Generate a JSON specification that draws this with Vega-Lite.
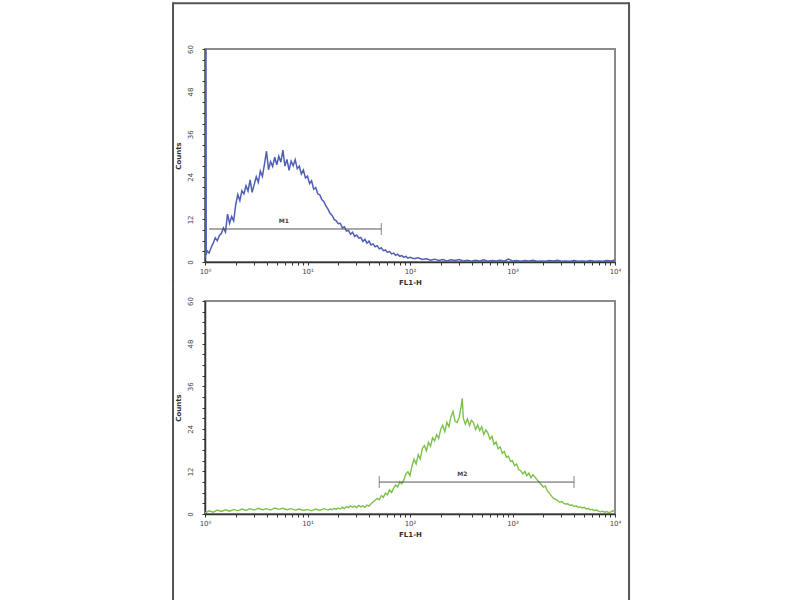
{
  "$schema": "https://vega.github.io/schema/vega-lite/v6.json",
  "background": "white",
  "padding": {"left": 171, "top": 0, "right": 0, "bottom": 0},
  "config": {
    "view": {"stroke": "#8a8a8a", "strokeWidth": 2},
    "font": "DejaVu Sans",
    "axis": {
      "grid": false, "domainColor": "#333333", "domainWidth": 1.5,
      "tickColor": "#333333", "tickSize": 3, "tickWidth": 1, "tickCount": 100,
      "labelFontSize": 7, "labelColor": "#444444", "labelOverlap": false, "labelFlush": false,
      "titleFontSize": 7, "titleColor": "#333333", "titleFontWeight": "bold"
    }
  },
  "datasets": {
    "blue": [
      {"log_fl1": 0.00, "count": 75}, {"log_fl1": 0.004, "count": 1}, {"log_fl1": 0.008, "count": 75}, {"log_fl1": 0.012, "count": 2}, {"log_fl1": 0.02, "count": 3.2}, {"log_fl1": 0.04, "count": 2.5},
      {"log_fl1": 0.06, "count": 4.1}, {"log_fl1": 0.08, "count": 5.3}, {"log_fl1": 0.10, "count": 6.8}, {"log_fl1": 0.12, "count": 6.0},
      {"log_fl1": 0.14, "count": 7.4}, {"log_fl1": 0.16, "count": 8.1}, {"log_fl1": 0.18, "count": 9.6}, {"log_fl1": 0.20, "count": 8.4},
      {"log_fl1": 0.22, "count": 13.5}, {"log_fl1": 0.24, "count": 10.9}, {"log_fl1": 0.26, "count": 12.8}, {"log_fl1": 0.28, "count": 11.6},
      {"log_fl1": 0.30, "count": 16.2}, {"log_fl1": 0.32, "count": 19.0}, {"log_fl1": 0.34, "count": 17.3}, {"log_fl1": 0.36, "count": 20.1},
      {"log_fl1": 0.38, "count": 19.2}, {"log_fl1": 0.40, "count": 21.5}, {"log_fl1": 0.42, "count": 20.0}, {"log_fl1": 0.44, "count": 23.1},
      {"log_fl1": 0.46, "count": 19.6}, {"log_fl1": 0.48, "count": 21.8}, {"log_fl1": 0.50, "count": 24.0}, {"log_fl1": 0.52, "count": 22.4},
      {"log_fl1": 0.54, "count": 25.6}, {"log_fl1": 0.56, "count": 24.1}, {"log_fl1": 0.58, "count": 27.5}, {"log_fl1": 0.60, "count": 31.2},
      {"log_fl1": 0.62, "count": 26.0}, {"log_fl1": 0.64, "count": 28.3}, {"log_fl1": 0.66, "count": 26.9}, {"log_fl1": 0.68, "count": 29.5},
      {"log_fl1": 0.70, "count": 27.4}, {"log_fl1": 0.72, "count": 29.8}, {"log_fl1": 0.74, "count": 28.1}, {"log_fl1": 0.76, "count": 31.5},
      {"log_fl1": 0.78, "count": 27.0}, {"log_fl1": 0.80, "count": 28.9}, {"log_fl1": 0.82, "count": 25.8}, {"log_fl1": 0.84, "count": 28.4},
      {"log_fl1": 0.86, "count": 27.1}, {"log_fl1": 0.88, "count": 28.8}, {"log_fl1": 0.90, "count": 26.3}, {"log_fl1": 0.92, "count": 27.0},
      {"log_fl1": 0.94, "count": 24.8}, {"log_fl1": 0.96, "count": 25.9}, {"log_fl1": 0.98, "count": 23.7}, {"log_fl1": 1.00, "count": 24.2},
      {"log_fl1": 1.02, "count": 22.1}, {"log_fl1": 1.04, "count": 22.9}, {"log_fl1": 1.06, "count": 20.5}, {"log_fl1": 1.08, "count": 21.0},
      {"log_fl1": 1.10, "count": 19.2}, {"log_fl1": 1.12, "count": 18.9}, {"log_fl1": 1.14, "count": 17.6}, {"log_fl1": 1.16, "count": 17.0},
      {"log_fl1": 1.18, "count": 15.8}, {"log_fl1": 1.20, "count": 14.9}, {"log_fl1": 1.22, "count": 13.7}, {"log_fl1": 1.24, "count": 13.1},
      {"log_fl1": 1.26, "count": 12.0}, {"log_fl1": 1.28, "count": 11.6}, {"log_fl1": 1.30, "count": 10.8}, {"log_fl1": 1.32, "count": 10.9},
      {"log_fl1": 1.34, "count": 9.6}, {"log_fl1": 1.36, "count": 9.9}, {"log_fl1": 1.38, "count": 8.7}, {"log_fl1": 1.40, "count": 8.9},
      {"log_fl1": 1.42, "count": 7.8}, {"log_fl1": 1.44, "count": 8.4}, {"log_fl1": 1.46, "count": 7.2}, {"log_fl1": 1.48, "count": 7.6},
      {"log_fl1": 1.50, "count": 6.7}, {"log_fl1": 1.52, "count": 6.9}, {"log_fl1": 1.54, "count": 5.8}, {"log_fl1": 1.56, "count": 6.4},
      {"log_fl1": 1.58, "count": 5.3}, {"log_fl1": 1.60, "count": 5.9}, {"log_fl1": 1.62, "count": 4.8}, {"log_fl1": 1.64, "count": 5.1},
      {"log_fl1": 1.66, "count": 4.3}, {"log_fl1": 1.68, "count": 4.6}, {"log_fl1": 1.70, "count": 3.7}, {"log_fl1": 1.72, "count": 4.0},
      {"log_fl1": 1.74, "count": 3.2}, {"log_fl1": 1.76, "count": 3.4}, {"log_fl1": 1.78, "count": 2.7}, {"log_fl1": 1.80, "count": 3.0},
      {"log_fl1": 1.82, "count": 2.3}, {"log_fl1": 1.84, "count": 2.5}, {"log_fl1": 1.86, "count": 1.9}, {"log_fl1": 1.88, "count": 2.2},
      {"log_fl1": 1.90, "count": 1.6}, {"log_fl1": 1.92, "count": 1.8}, {"log_fl1": 1.94, "count": 1.3}, {"log_fl1": 1.96, "count": 1.6},
      {"log_fl1": 1.98, "count": 1.1}, {"log_fl1": 2.00, "count": 1.3}, {"log_fl1": 2.04, "count": 0.9}, {"log_fl1": 2.08, "count": 1.2},
      {"log_fl1": 2.12, "count": 0.7}, {"log_fl1": 2.16, "count": 0.9}, {"log_fl1": 2.20, "count": 0.5}, {"log_fl1": 2.24, "count": 0.8},
      {"log_fl1": 2.28, "count": 0.4}, {"log_fl1": 2.32, "count": 0.7}, {"log_fl1": 2.36, "count": 0.3}, {"log_fl1": 2.40, "count": 0.6},
      {"log_fl1": 2.44, "count": 0.4}, {"log_fl1": 2.48, "count": 0.7}, {"log_fl1": 2.52, "count": 0.3}, {"log_fl1": 2.56, "count": 0.5},
      {"log_fl1": 2.60, "count": 0.2}, {"log_fl1": 2.64, "count": 0.5}, {"log_fl1": 2.68, "count": 0.3}, {"log_fl1": 2.72, "count": 0.6},
      {"log_fl1": 2.76, "count": 0.2}, {"log_fl1": 2.80, "count": 0.4}, {"log_fl1": 2.84, "count": 0.3}, {"log_fl1": 2.88, "count": 0.5},
      {"log_fl1": 2.92, "count": 0.2}, {"log_fl1": 2.96, "count": 0.8}, {"log_fl1": 3.00, "count": 0.3}, {"log_fl1": 3.04, "count": 0.4},
      {"log_fl1": 3.08, "count": 0.2}, {"log_fl1": 3.12, "count": 0.4}, {"log_fl1": 3.16, "count": 0.3}, {"log_fl1": 3.20, "count": 0.5},
      {"log_fl1": 3.24, "count": 0.2}, {"log_fl1": 3.28, "count": 0.3}, {"log_fl1": 3.32, "count": 0.2}, {"log_fl1": 3.36, "count": 0.4},
      {"log_fl1": 3.40, "count": 0.3}, {"log_fl1": 3.44, "count": 0.5}, {"log_fl1": 3.48, "count": 0.2}, {"log_fl1": 3.52, "count": 0.3},
      {"log_fl1": 3.56, "count": 0.2}, {"log_fl1": 3.60, "count": 0.4}, {"log_fl1": 3.64, "count": 0.2}, {"log_fl1": 3.68, "count": 0.3},
      {"log_fl1": 3.72, "count": 0.2}, {"log_fl1": 3.76, "count": 0.4}, {"log_fl1": 3.80, "count": 0.2}, {"log_fl1": 3.84, "count": 0.3},
      {"log_fl1": 3.88, "count": 0.2}, {"log_fl1": 3.92, "count": 0.4}, {"log_fl1": 3.96, "count": 0.3}, {"log_fl1": 4.00, "count": 0.6}
    ],
    "green": [
      {"log_fl1": 0.00, "count": 0.3}, {"log_fl1": 0.04, "count": 0.9}, {"log_fl1": 0.08, "count": 0.5}, {"log_fl1": 0.12, "count": 1.1},
      {"log_fl1": 0.16, "count": 0.7}, {"log_fl1": 0.20, "count": 1.2}, {"log_fl1": 0.24, "count": 0.8}, {"log_fl1": 0.28, "count": 1.3},
      {"log_fl1": 0.32, "count": 0.9}, {"log_fl1": 0.36, "count": 1.4}, {"log_fl1": 0.40, "count": 1.0}, {"log_fl1": 0.44, "count": 1.5},
      {"log_fl1": 0.48, "count": 1.1}, {"log_fl1": 0.52, "count": 1.6}, {"log_fl1": 0.56, "count": 1.2}, {"log_fl1": 0.60, "count": 1.5},
      {"log_fl1": 0.64, "count": 1.1}, {"log_fl1": 0.68, "count": 1.7}, {"log_fl1": 0.72, "count": 1.3}, {"log_fl1": 0.76, "count": 1.6},
      {"log_fl1": 0.80, "count": 1.2}, {"log_fl1": 0.84, "count": 1.5}, {"log_fl1": 0.88, "count": 1.1}, {"log_fl1": 0.92, "count": 1.4},
      {"log_fl1": 0.96, "count": 1.0}, {"log_fl1": 1.00, "count": 1.3}, {"log_fl1": 1.04, "count": 0.9}, {"log_fl1": 1.08, "count": 1.4},
      {"log_fl1": 1.12, "count": 1.0}, {"log_fl1": 1.16, "count": 1.5}, {"log_fl1": 1.20, "count": 1.1}, {"log_fl1": 1.22, "count": 1.4},
      {"log_fl1": 1.24, "count": 1.2}, {"log_fl1": 1.26, "count": 1.6}, {"log_fl1": 1.28, "count": 1.3}, {"log_fl1": 1.30, "count": 1.7},
      {"log_fl1": 1.32, "count": 1.4}, {"log_fl1": 1.34, "count": 1.9}, {"log_fl1": 1.36, "count": 1.5}, {"log_fl1": 1.38, "count": 2.1},
      {"log_fl1": 1.40, "count": 1.8}, {"log_fl1": 1.42, "count": 2.3}, {"log_fl1": 1.44, "count": 1.9}, {"log_fl1": 1.46, "count": 2.2},
      {"log_fl1": 1.48, "count": 1.8}, {"log_fl1": 1.50, "count": 2.4}, {"log_fl1": 1.52, "count": 2.0}, {"log_fl1": 1.54, "count": 2.3},
      {"log_fl1": 1.56, "count": 1.9}, {"log_fl1": 1.58, "count": 2.5}, {"log_fl1": 1.60, "count": 2.2}, {"log_fl1": 1.62, "count": 2.9},
      {"log_fl1": 1.64, "count": 3.4}, {"log_fl1": 1.66, "count": 3.9}, {"log_fl1": 1.68, "count": 4.4}, {"log_fl1": 1.70, "count": 4.0},
      {"log_fl1": 1.72, "count": 5.2}, {"log_fl1": 1.74, "count": 4.7}, {"log_fl1": 1.76, "count": 5.9}, {"log_fl1": 1.78, "count": 5.4},
      {"log_fl1": 1.80, "count": 6.8}, {"log_fl1": 1.82, "count": 6.1}, {"log_fl1": 1.84, "count": 7.3}, {"log_fl1": 1.86, "count": 8.2},
      {"log_fl1": 1.88, "count": 7.6}, {"log_fl1": 1.90, "count": 9.1}, {"log_fl1": 1.92, "count": 8.5}, {"log_fl1": 1.94, "count": 9.6},
      {"log_fl1": 1.96, "count": 11.3}, {"log_fl1": 1.98, "count": 11.9}, {"log_fl1": 2.00, "count": 10.8}, {"log_fl1": 2.02, "count": 13.6},
      {"log_fl1": 2.04, "count": 15.4}, {"log_fl1": 2.06, "count": 14.1}, {"log_fl1": 2.08, "count": 16.7}, {"log_fl1": 2.10, "count": 15.5},
      {"log_fl1": 2.12, "count": 18.4}, {"log_fl1": 2.14, "count": 19.3}, {"log_fl1": 2.16, "count": 17.8}, {"log_fl1": 2.18, "count": 20.2},
      {"log_fl1": 2.20, "count": 19.1}, {"log_fl1": 2.22, "count": 21.5}, {"log_fl1": 2.24, "count": 20.6}, {"log_fl1": 2.26, "count": 22.4},
      {"log_fl1": 2.28, "count": 21.3}, {"log_fl1": 2.30, "count": 23.9}, {"log_fl1": 2.32, "count": 25.0}, {"log_fl1": 2.34, "count": 23.2},
      {"log_fl1": 2.36, "count": 25.8}, {"log_fl1": 2.38, "count": 24.6}, {"log_fl1": 2.40, "count": 27.4}, {"log_fl1": 2.42, "count": 28.9},
      {"log_fl1": 2.44, "count": 26.1}, {"log_fl1": 2.46, "count": 25.8}, {"log_fl1": 2.48, "count": 27.2}, {"log_fl1": 2.50, "count": 30.5},
      {"log_fl1": 2.51, "count": 32.6}, {"log_fl1": 2.52, "count": 27.0}, {"log_fl1": 2.54, "count": 25.3}, {"log_fl1": 2.56, "count": 26.8},
      {"log_fl1": 2.58, "count": 24.9}, {"log_fl1": 2.60, "count": 26.4}, {"log_fl1": 2.62, "count": 25.7}, {"log_fl1": 2.64, "count": 23.8},
      {"log_fl1": 2.66, "count": 25.1}, {"log_fl1": 2.68, "count": 23.5}, {"log_fl1": 2.70, "count": 24.6}, {"log_fl1": 2.72, "count": 22.4},
      {"log_fl1": 2.74, "count": 23.7}, {"log_fl1": 2.76, "count": 22.8}, {"log_fl1": 2.78, "count": 21.1}, {"log_fl1": 2.80, "count": 21.9},
      {"log_fl1": 2.82, "count": 19.6}, {"log_fl1": 2.84, "count": 20.3}, {"log_fl1": 2.86, "count": 18.4}, {"log_fl1": 2.88, "count": 18.9},
      {"log_fl1": 2.90, "count": 17.1}, {"log_fl1": 2.92, "count": 17.6}, {"log_fl1": 2.94, "count": 16.0}, {"log_fl1": 2.96, "count": 16.3},
      {"log_fl1": 2.98, "count": 14.8}, {"log_fl1": 3.00, "count": 15.0}, {"log_fl1": 3.02, "count": 13.6}, {"log_fl1": 3.04, "count": 14.1},
      {"log_fl1": 3.06, "count": 12.5}, {"log_fl1": 3.08, "count": 12.2}, {"log_fl1": 3.10, "count": 11.3}, {"log_fl1": 3.12, "count": 12.0},
      {"log_fl1": 3.14, "count": 10.8}, {"log_fl1": 3.16, "count": 11.5}, {"log_fl1": 3.18, "count": 10.2}, {"log_fl1": 3.20, "count": 11.1},
      {"log_fl1": 3.22, "count": 10.4}, {"log_fl1": 3.24, "count": 9.6}, {"log_fl1": 3.26, "count": 9.0}, {"log_fl1": 3.28, "count": 8.3},
      {"log_fl1": 3.30, "count": 7.6}, {"log_fl1": 3.32, "count": 7.9}, {"log_fl1": 3.34, "count": 6.5}, {"log_fl1": 3.36, "count": 5.8},
      {"log_fl1": 3.38, "count": 5.1}, {"log_fl1": 3.40, "count": 4.4}, {"log_fl1": 3.42, "count": 4.1}, {"log_fl1": 3.44, "count": 3.8},
      {"log_fl1": 3.46, "count": 3.3}, {"log_fl1": 3.48, "count": 3.5}, {"log_fl1": 3.50, "count": 3.0}, {"log_fl1": 3.52, "count": 2.8},
      {"log_fl1": 3.54, "count": 2.9}, {"log_fl1": 3.56, "count": 2.4}, {"log_fl1": 3.58, "count": 2.6}, {"log_fl1": 3.60, "count": 2.1},
      {"log_fl1": 3.62, "count": 2.3}, {"log_fl1": 3.64, "count": 1.9}, {"log_fl1": 3.66, "count": 2.0}, {"log_fl1": 3.68, "count": 1.7},
      {"log_fl1": 3.70, "count": 1.9}, {"log_fl1": 3.72, "count": 1.4}, {"log_fl1": 3.74, "count": 1.6}, {"log_fl1": 3.76, "count": 1.2},
      {"log_fl1": 3.78, "count": 1.3}, {"log_fl1": 3.80, "count": 1.0}, {"log_fl1": 3.82, "count": 1.1}, {"log_fl1": 3.84, "count": 0.8},
      {"log_fl1": 3.86, "count": 0.6}, {"log_fl1": 3.88, "count": 0.8}, {"log_fl1": 3.90, "count": 0.5}, {"log_fl1": 3.92, "count": 0.7},
      {"log_fl1": 3.94, "count": 0.4}, {"log_fl1": 3.96, "count": 0.6}, {"log_fl1": 3.98, "count": 0.9}, {"log_fl1": 4.00, "count": 0.8}
    ],
    "gates": [
      {"panel": "top", "marker": "M1", "from": 0.04, "to": 1.72, "level": 9.3, "label_at": 0.77},
      {"panel": "bottom", "marker": "M2", "from": 1.70, "to": 3.60, "level": 9.0, "label_at": 2.51}
    ],
    "frame": [{"part": "outer"}]
  },
  "spacing": 39,
  "bounds": "flush",
  "vconcat": [
    {
      "width": 410, "height": 213,
      "layer": [
        {
          "data": {"name": "blue"},
          "mark": {"type": "line", "color": "#4f5fb5", "strokeWidth": 1.5, "clip": true},
          "encoding": {
            "x": {"field": "log_fl1", "type": "quantitative", "scale": {"domain": [0, 4], "nice": false, "zero": false},
              "axis": {"title": "FL1-H", "titlePadding": 4, "labelOverlap": false, "tickCount": 100,
                "values": [0,0.301,0.477,0.602,0.699,0.778,0.845,0.903,0.954,1,1.301,1.477,1.602,1.699,1.778,1.845,1.903,1.954,2,2.301,2.477,2.602,2.699,2.778,2.845,2.903,2.954,3,3.301,3.477,3.602,3.699,3.778,3.845,3.903,3.954,4],
                "labelExpr": "datum.value === 0 ? '10⁰' : datum.value === 1 ? '10¹' : datum.value === 2 ? '10²' : datum.value === 3 ? '10³' : datum.value === 4 ? '10⁴' : ''"}},
            "y": {"field": "count", "type": "quantitative", "scale": {"domain": [0, 60], "nice": false},
              "axis": {"title": "Counts", "titlePadding": 5, "labelAngle": 270, "labelAlign": "center", "labelBaseline": "bottom", "labelPadding": 9, "labelOverlap": false, "tickCount": 100, "format": "d",
                "values": [0,3,6,9,12,15,18,21,24,27,30,33,36,39,42,45,48,51,54,57,60],
                "labelExpr": "datum.value % 12 === 0 ? format(datum.value, 'd') : ''"}}
          }
        },
        {
          "data": {"name": "gates"},
          "transform": [{"filter": "datum.panel === 'top'"}],
          "mark": {"type": "rule", "color": "#555555", "strokeWidth": 1},
          "encoding": {"x": {"field": "from", "type": "quantitative"}, "x2": {"field": "to"}, "y": {"field": "level", "type": "quantitative"}}
        },
        {
          "data": {"name": "gates"},
          "transform": [{"filter": "datum.panel === 'top'"}],
          "mark": {"type": "tick", "orient": "vertical", "size": 12, "thickness": 1, "color": "#555555"},
          "encoding": {"x": {"field": "to", "type": "quantitative"}, "y": {"field": "level", "type": "quantitative"}}
        },
        {
          "data": {"name": "gates"},
          "transform": [{"filter": "datum.panel === 'top'"}],
          "mark": {"type": "text", "fontSize": 6, "fontWeight": "bold", "color": "#444444", "dy": -8},
          "encoding": {"x": {"field": "label_at", "type": "quantitative"}, "y": {"field": "level", "type": "quantitative"}, "text": {"field": "marker"}}
        },
        {
          "data": {"name": "frame"},
          "mark": {"type": "rule", "color": "#555555", "strokeWidth": 2, "clip": false},
          "encoding": {"x": {"datum": -0.312}, "y": {"datum": -6}, "y2": {"datum": 73.2}}
        },
        {
          "data": {"name": "frame"},
          "mark": {"type": "rule", "color": "#555555", "strokeWidth": 2, "clip": false},
          "encoding": {"x": {"datum": 4.137}, "y": {"datum": -6}, "y2": {"datum": 73.2}}
        },
        {
          "data": {"name": "frame"},
          "mark": {"type": "rule", "color": "#555555", "strokeWidth": 2, "clip": false},
          "encoding": {"x": {"datum": -0.312}, "x2": {"datum": 4.137}, "y": {"datum": 72.9}}
        }
      ]
    },
    {
      "width": 410, "height": 213,
      "layer": [
        {
          "data": {"name": "green"},
          "mark": {"type": "line", "color": "#7cc24a", "strokeWidth": 1.4, "clip": true},
          "encoding": {
            "x": {"field": "log_fl1", "type": "quantitative", "scale": {"domain": [0, 4], "nice": false, "zero": false},
              "axis": {"title": "FL1-H", "titlePadding": 4, "labelOverlap": false, "tickCount": 100,
                "values": [0,0.301,0.477,0.602,0.699,0.778,0.845,0.903,0.954,1,1.301,1.477,1.602,1.699,1.778,1.845,1.903,1.954,2,2.301,2.477,2.602,2.699,2.778,2.845,2.903,2.954,3,3.301,3.477,3.602,3.699,3.778,3.845,3.903,3.954,4],
                "labelExpr": "datum.value === 0 ? '10⁰' : datum.value === 1 ? '10¹' : datum.value === 2 ? '10²' : datum.value === 3 ? '10³' : datum.value === 4 ? '10⁴' : ''"}},
            "y": {"field": "count", "type": "quantitative", "scale": {"domain": [0, 60], "nice": false},
              "axis": {"title": "Counts", "titlePadding": 5, "labelAngle": 270, "labelAlign": "center", "labelBaseline": "bottom", "labelPadding": 9, "labelOverlap": false, "tickCount": 100, "format": "d",
                "values": [0,3,6,9,12,15,18,21,24,27,30,33,36,39,42,45,48,51,54,57,60],
                "labelExpr": "datum.value % 12 === 0 ? format(datum.value, 'd') : ''"}}
          }
        },
        {
          "data": {"name": "gates"},
          "transform": [{"filter": "datum.panel === 'bottom'"}],
          "mark": {"type": "rule", "color": "#555555", "strokeWidth": 1},
          "encoding": {"x": {"field": "from", "type": "quantitative"}, "x2": {"field": "to"}, "y": {"field": "level", "type": "quantitative"}}
        },
        {
          "data": {"name": "gates"},
          "transform": [{"filter": "datum.panel === 'bottom'"}],
          "mark": {"type": "tick", "orient": "vertical", "size": 12, "thickness": 1, "color": "#555555"},
          "encoding": {"x": {"field": "from", "type": "quantitative"}, "y": {"field": "level", "type": "quantitative"}}
        },
        {
          "data": {"name": "gates"},
          "transform": [{"filter": "datum.panel === 'bottom'"}],
          "mark": {"type": "tick", "orient": "vertical", "size": 12, "thickness": 1, "color": "#555555"},
          "encoding": {"x": {"field": "to", "type": "quantitative"}, "y": {"field": "level", "type": "quantitative"}}
        },
        {
          "data": {"name": "gates"},
          "transform": [{"filter": "datum.panel === 'bottom'"}],
          "mark": {"type": "text", "fontSize": 6, "fontWeight": "bold", "color": "#444444", "dy": -8},
          "encoding": {"x": {"field": "label_at", "type": "quantitative"}, "y": {"field": "level", "type": "quantitative"}, "text": {"field": "marker"}}
        },
        {
          "data": {"name": "frame"},
          "mark": {"type": "rule", "color": "#555555", "strokeWidth": 2, "clip": false},
          "encoding": {"x": {"datum": -0.312}, "y": {"datum": -32}, "y2": {"datum": 66}}
        },
        {
          "data": {"name": "frame"},
          "mark": {"type": "rule", "color": "#555555", "strokeWidth": 2, "clip": false},
          "encoding": {"x": {"datum": 4.137}, "y": {"datum": -32}, "y2": {"datum": 66}}
        }
      ]
    }
  ]
}
